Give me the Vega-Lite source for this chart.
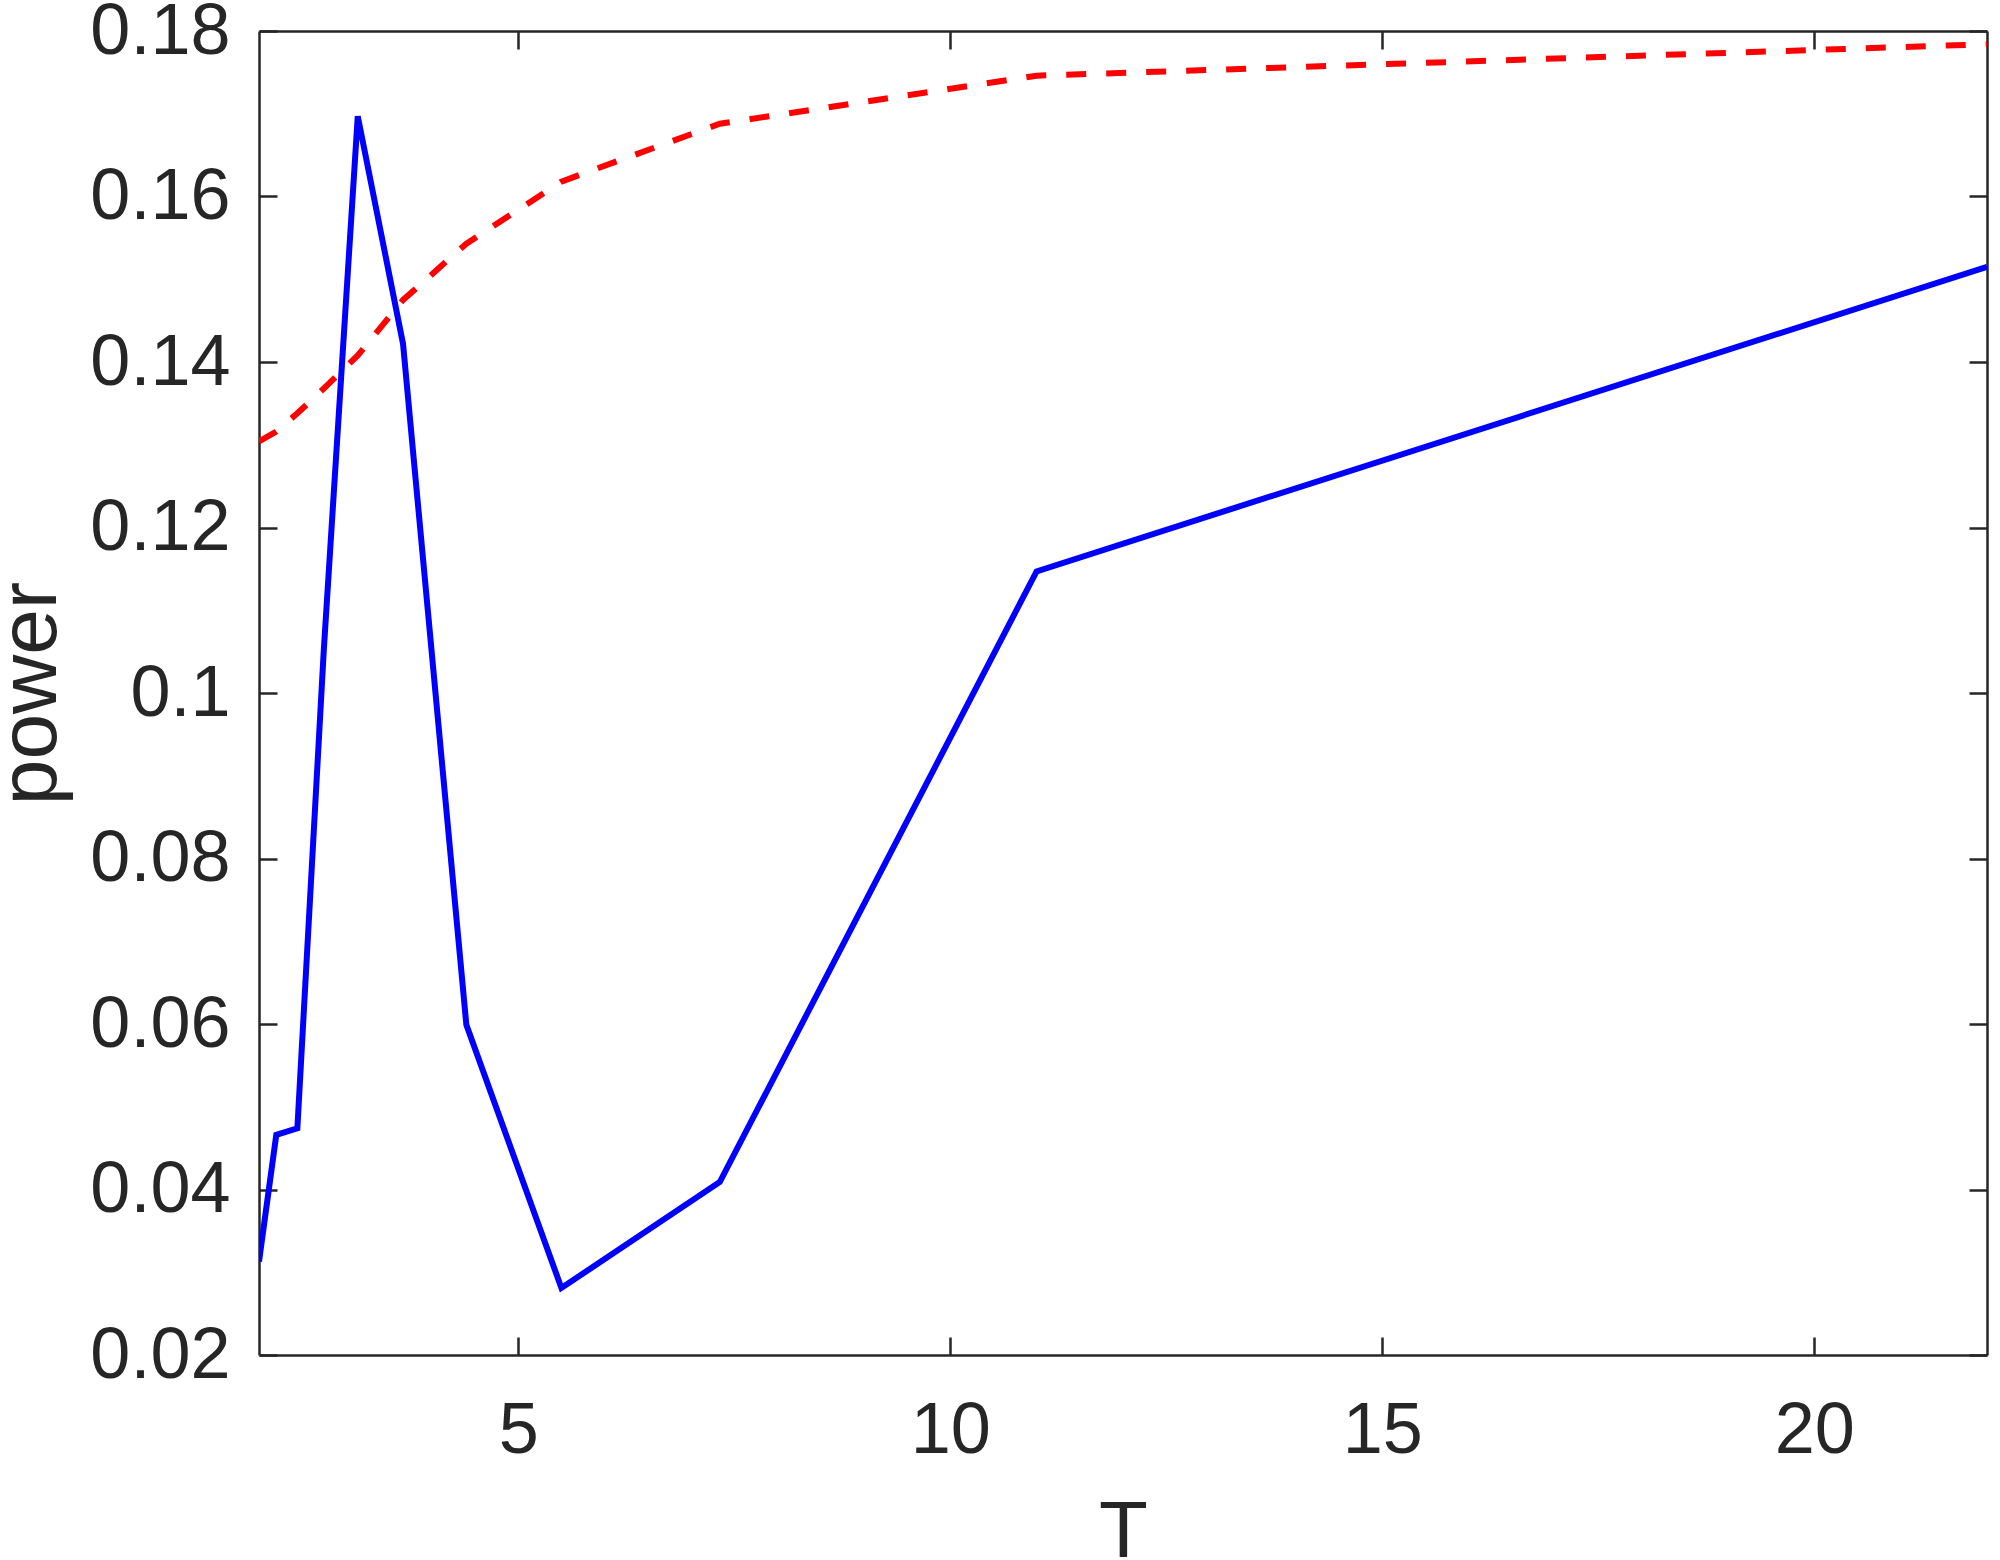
{
  "$schema": "https://vega.github.io/schema/vega-lite/v6.json",
  "width": 1728,
  "height": 1324,
  "autosize": {"type": "none"},
  "padding": {"left": 259, "top": 31, "right": 13, "bottom": 205},
  "background": "white",
  "config": {
    "view": {"stroke": null},
    "axis": {
      "grid": false,
      "domainColor": "#262626",
      "domainWidth": 2.5,
      "tickColor": "#262626",
      "tickWidth": 2.5,
      "tickSize": -18,
      "labelFont": "Liberation Sans",
      "labelFontSize": 72,
      "labelColor": "#262626",
      "titleFont": "Liberation Sans",
      "titleFontSize": 82,
      "titleFontWeight": "normal",
      "titleColor": "#262626",
      "labelFlush": false,
      "labelOverlap": false
    }
  },
  "data": {
    "values": [
      {"T": 2.0, "power": 0.0313, "series": "blue"},
      {"T": 2.2, "power": 0.0466, "series": "blue"},
      {"T": 2.444, "power": 0.0474, "series": "blue"},
      {"T": 2.75, "power": 0.1052, "series": "blue"},
      {"T": 3.143, "power": 0.1697, "series": "blue"},
      {"T": 3.667, "power": 0.1422, "series": "blue"},
      {"T": 4.4, "power": 0.0599, "series": "blue"},
      {"T": 5.5, "power": 0.0281, "series": "blue"},
      {"T": 7.333, "power": 0.0409, "series": "blue"},
      {"T": 11.0, "power": 0.1147, "series": "blue"},
      {"T": 22.0, "power": 0.1515, "series": "blue"},
      {"T": 2.0, "power": 0.1304, "series": "red"},
      {"T": 2.2, "power": 0.1316, "series": "red"},
      {"T": 2.444, "power": 0.1338, "series": "red"},
      {"T": 2.75, "power": 0.1368, "series": "red"},
      {"T": 3.143, "power": 0.1408, "series": "red"},
      {"T": 3.667, "power": 0.1475, "series": "red"},
      {"T": 4.4, "power": 0.1543, "series": "red"},
      {"T": 5.5, "power": 0.1618, "series": "red"},
      {"T": 7.333, "power": 0.1688, "series": "red"},
      {"T": 11.0, "power": 0.1746, "series": "red"},
      {"T": 22.0, "power": 0.1784, "series": "red"}
    ]
  },
  "layer": [
    {
      "transform": [{"filter": "datum.series === 'blue'"}],
      "mark": {"type": "line", "color": "#0000FF", "strokeWidth": 6, "clip": true},
      "encoding": {
        "x": {
          "field": "T", "type": "quantitative",
          "scale": {"domain": [2, 22], "nice": false, "zero": false},
          "axis": {
            "orient": "bottom",
            "values": [5, 10, 15, 20],
            "labelPadding": 58,
            "labelBaseline": "top",
            "title": "T",
            "titleX": 864,
            "titleY": 201,
            "titleBaseline": "alphabetic",
            "titleAnchor": "middle",
            "titleFontSize": 80
          }
        },
        "y": {
          "field": "power", "type": "quantitative",
          "scale": {"domain": [0.02, 0.18], "nice": false, "zero": false},
          "axis": {
            "orient": "left",
            "values": [0.02, 0.04, 0.06, 0.08, 0.1, 0.12, 0.14, 0.16, 0.18],
            "format": ".2~f",
            "labelPadding": 47,
            "title": "power",
            "titleAngle": -90,
            "titleX": -204,
            "titleY": 662,
            "titleBaseline": "alphabetic",
            "titleAlign": "center"
          }
        }
      }
    },
    {
      "transform": [{"filter": "datum.series === 'red'"}],
      "mark": {"type": "line", "color": "#FF0000", "strokeWidth": 6, "strokeDash": [20, 20], "clip": true},
      "encoding": {
        "x": {
          "field": "T", "type": "quantitative",
          "axis": {"orient": "top", "values": [5, 10, 15, 20], "labels": false, "title": null}
        },
        "y": {
          "field": "power", "type": "quantitative",
          "axis": {"orient": "right", "values": [0.02, 0.04, 0.06, 0.08, 0.1, 0.12, 0.14, 0.16, 0.18], "labels": false, "title": null}
        }
      }
    }
  ],
  "resolve": {"axis": {"x": "independent", "y": "independent"}}
}
